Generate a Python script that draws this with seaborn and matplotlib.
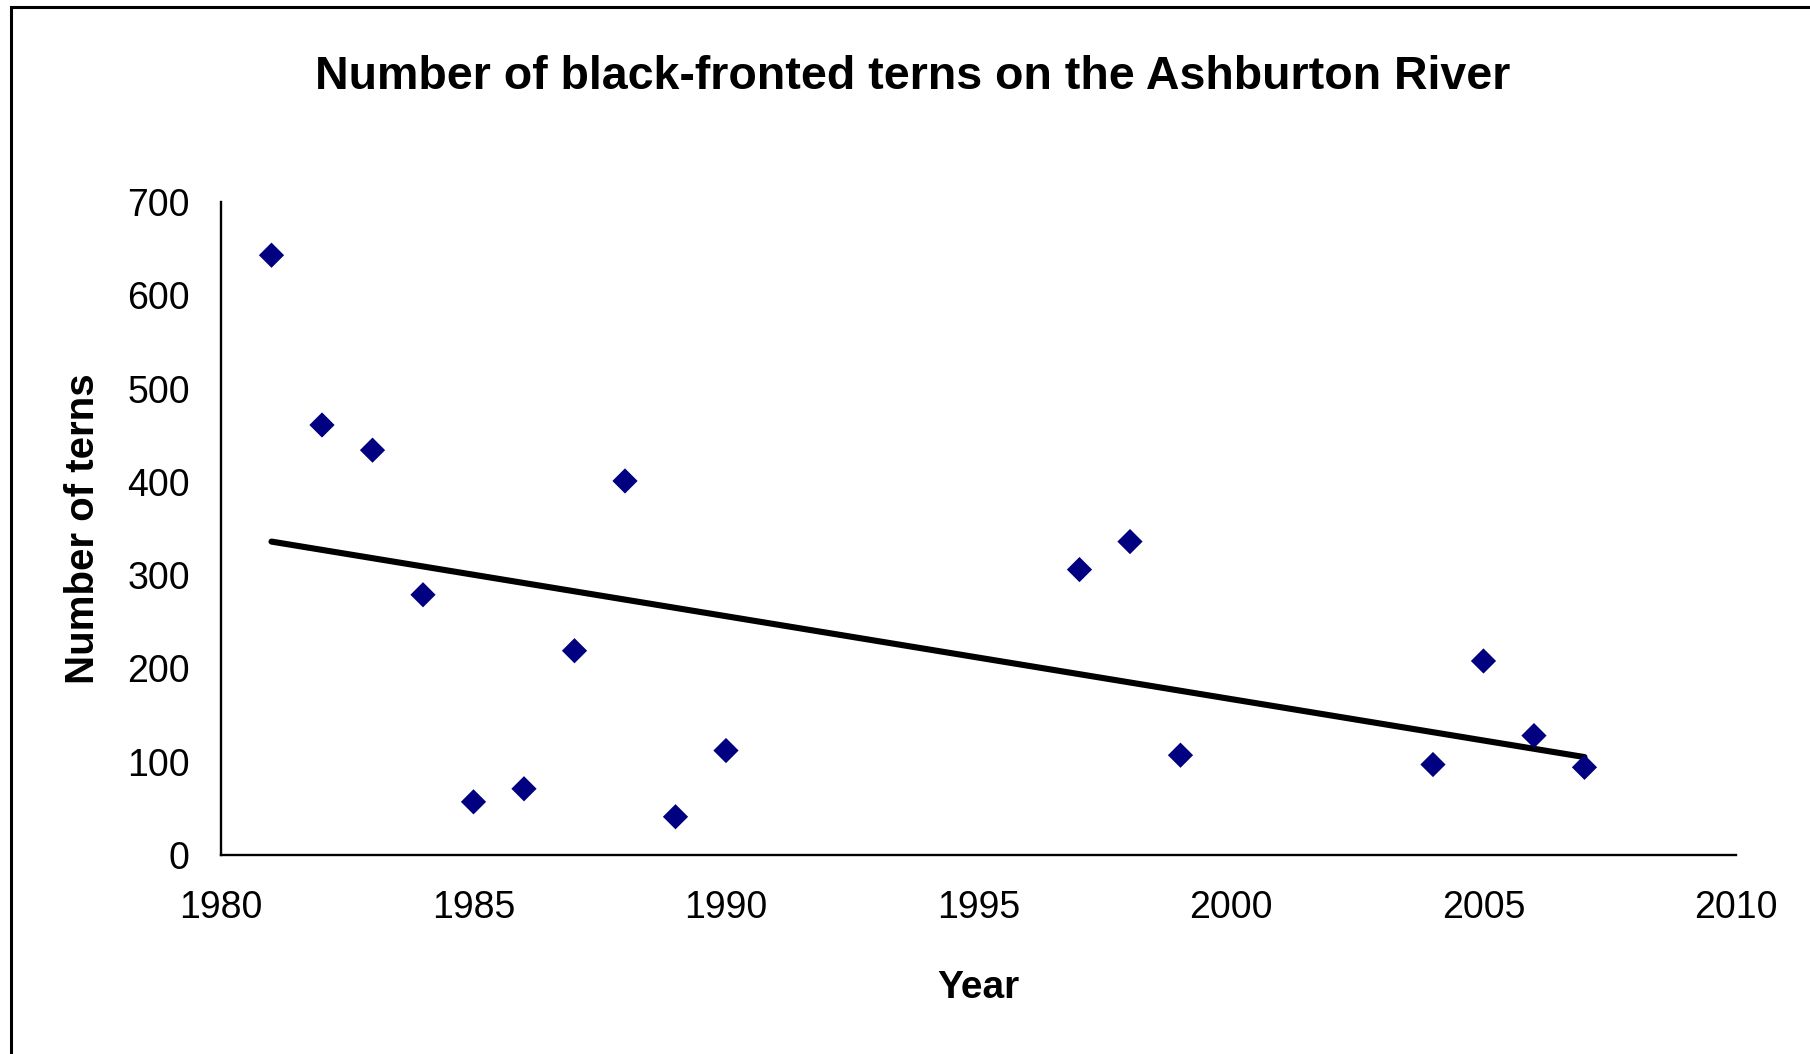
import numpy as np
import pandas as pd
import seaborn as sns
import matplotlib.pyplot as plt
from matplotlib.patches import Rectangle

sns.set_style("white")
plt.rcParams['font.family'] = ['Liberation Sans', 'DejaVu Sans']
plt.rcParams['text.color'] = 'black'
plt.rcParams['axes.labelcolor'] = 'black'
plt.rcParams['xtick.color'] = 'black'
plt.rcParams['ytick.color'] = 'black'

# tern counts
years = [1981, 1982, 1983, 1984, 1985, 1986, 1987, 1988, 1989, 1990,
         1997, 1998, 1999, 2004, 2005, 2006, 2007]
terns = [643, 461, 434, 279, 57, 71, 219, 401, 41, 112,
         306, 336, 107, 97, 208, 128, 94]

# linear trendline end points
trend_years = [1981, 2007]
trend_vals = [336, 105]

df = pd.DataFrame({'year': years, 'terns': terns})
df_trend = pd.DataFrame({'year': trend_years, 'terns': trend_vals})

fig = plt.figure(figsize=(18.1, 10.54), dpi=100)
ax = fig.add_axes([0.1221, 0.1888, 0.8370, 0.6195])

sns.lineplot(x='year', y='terns', data=df_trend, color='black', linewidth=4.4, ax=ax)
sns.scatterplot(x='year', y='terns', data=df, marker='D', s=165, color='#000080',
                edgecolor='none', ax=ax, zorder=3)

ax.set_xlim(1980, 2010)
ax.set_ylim(0, 700)
ax.set_xticks(range(1980, 2011, 5))
ax.set_yticks(range(0, 701, 100))

sns.despine(ax=ax)
for sp in ['left', 'bottom']:
    ax.spines[sp].set_linewidth(1.7)
    ax.spines[sp].set_color('black')

ax.tick_params(axis='both', length=8.5, width=1.7, color='black', labelsize=27)
ax.tick_params(axis='y', pad=14)
ax.tick_params(axis='x', pad=17)

ax.set_xlabel('Year', fontsize=28, fontweight='bold')
ax.set_ylabel('Number of terns', fontsize=29, fontweight='bold')
ax.xaxis.set_label_coords(0.5, -0.176)
ax.yaxis.set_label_coords(-0.0785, 0.5)

fig.text(0.504, 0.927, 'Number of black-fronted terns on the Ashburton River',
         fontsize=33.5, fontweight='bold', ha='center', va='center')

# outer chart frame (only left and top edges visible in the crop)
fig.add_artist(Rectangle((0.0061, -0.05), 1.2, 0.9934 + 0.05, transform=fig.transFigure,
                         fill=False, edgecolor='black', linewidth=2.2))

fig.savefig('out.png', dpi=100)
